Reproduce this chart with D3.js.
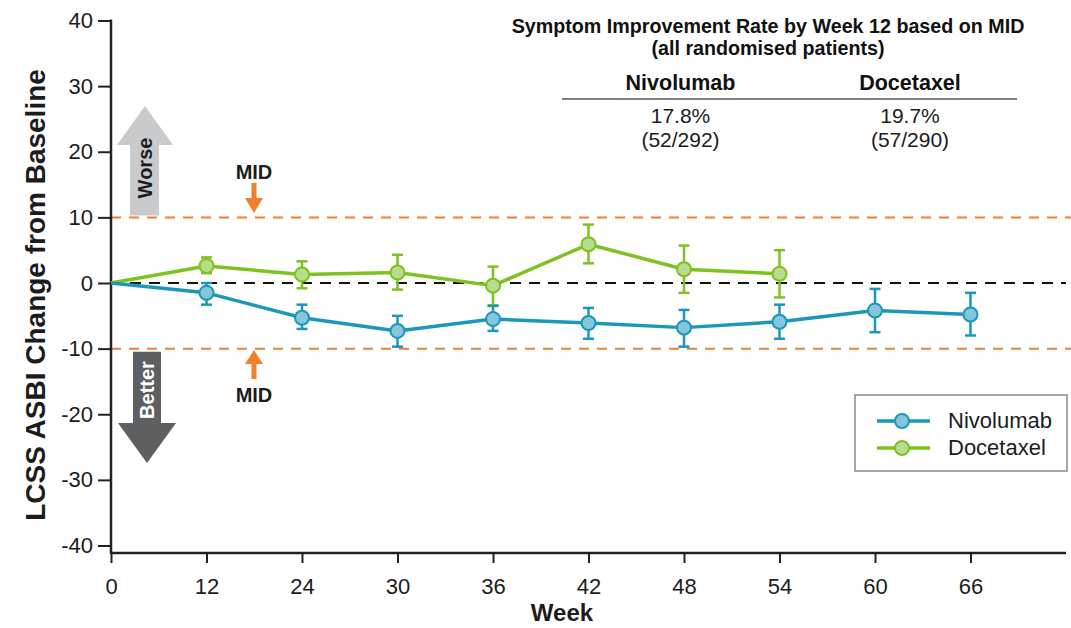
<!DOCTYPE html>
<html>
<head>
<meta charset="utf-8">
<script src="https://cdn.jsdelivr.net/npm/d3@7"></script>
<style>
  html, body { margin: 0; padding: 0; background: #fff; }
  svg { display: block; font-family: "Liberation Sans", Arial, sans-serif; }
</style>
</head>
<body>
<svg id="chart" width="1071" height="628"></svg>
<script>
// Study weeks (categorical, evenly spaced)
const weeks = [0, 12, 24, 30, 36, 42, 48, 54, 60, 66];
const yTicks = [40, 30, 20, 10, 0, -10, -20, -30, -40];

// Mean change from baseline with error bar limits
const nivoWeeks = [0, 12, 24, 30, 36, 42, 48, 54, 60, 66];
const nivoMean  = [0, -1.5, -5.3, -7.3, -5.5, -6.1, -6.8, -5.9, -4.2, -4.8];
const nivoHigh  = [null, 0.0, -3.3, -5.0, -3.5, -3.8, -4.1, -3.3, -0.9, -1.5];
const nivoLow   = [null, -3.3, -7.0, -9.7, -7.3, -8.5, -9.7, -8.5, -7.5, -8.0];

const doceWeeks = [0, 12, 24, 30, 36, 42, 48, 54];
const doceMean  = [0, 2.6, 1.3, 1.6, -0.4, 5.9, 2.1, 1.4];
const doceHigh  = [null, 3.9, 3.3, 4.3, 2.5, 8.9, 5.7, 5.0];
const doceLow   = [null, 1.5, -0.8, -1.0, -3.4, 3.0, -1.5, -2.2];

const midLevels = [10, -10];

const seriesNames = ["Nivolumab", "Docetaxel"];
const tableHeads = ["Nivolumab", "Docetaxel"];
const tableRates = ["17.8%", "19.7%"];
const tableCounts = ["(52/292)", "(57/290)"];

const colors = {
  Nivolumab: { line: "#1b98b9", fill: "#86c6dd" },
  Docetaxel: { line: "#7dc21e", fill: "#b8db8d" }
};
const orange = "#f0802c";
const ink = "#1c1c1c";

const svg = d3.select("#chart");

const x0 = 111, step = 95.5;
const x = d3.scalePoint().domain(weeks).range([x0, x0 + step * (weeks.length - 1)]);
const xEnd = x0 + step * weeks.length;
const y = d3.scaleLinear().domain([-40, 40]).range([545.5, 20.5]);
const yBottom = 553;

// Reference lines
svg.append("g").selectAll("line").data(midLevels).join("line")
  .attr("x1", x0).attr("x2", 1071)
  .attr("y1", d => y(d)).attr("y2", d => y(d))
  .attr("stroke", orange).attr("stroke-width", 2)
  .attr("stroke-dasharray", "10,8");

svg.append("line")
  .attr("x1", x0).attr("x2", xEnd)
  .attr("y1", y(0)).attr("y2", y(0))
  .attr("stroke", "#111").attr("stroke-width", 2.2)
  .attr("stroke-dasharray", "11,8");

// Worse / Better arrows
const worse = svg.append("g");
worse.append("path")
  .attr("d", `M130,${y(10) - 2} L130,145 L117,145 L145,106 L173,145 L159,145 L159,${y(10) - 2} Z`)
  .attr("fill", "#c9cacc");
worse.append("text")
  .attr("transform", "translate(152,168) rotate(-90)")
  .attr("text-anchor", "middle")
  .attr("font-size", 20).attr("font-weight", "bold").attr("fill", ink)
  .text("Worse");

const better = svg.append("g");
better.append("path")
  .attr("d", `M133,${y(-10) + 3} L133,423 L118,423 L147,463 L176,423 L161,423 L161,${y(-10) + 3} Z`)
  .attr("fill", "#5e5f61");
better.append("text")
  .attr("transform", "translate(154,390) rotate(-90)")
  .attr("text-anchor", "middle")
  .attr("font-size", 20).attr("font-weight", "bold").attr("fill", "#fff")
  .text("Better");

// MID markers
const midX = 254;
svg.append("path")
  .attr("d", `M251.5,183 L256.5,183 L256.5,198 L263,198 L254,213 L245,198 L251.5,198 Z`)
  .attr("fill", orange);
svg.append("text").attr("x", midX).attr("y", 179).attr("text-anchor", "middle")
  .attr("font-size", 20).attr("font-weight", "bold").attr("fill", ink).text("MID");
svg.append("path")
  .attr("d", `M251.5,379 L256.5,379 L256.5,364 L263,364 L254,350 L245,364 L251.5,364 Z`)
  .attr("fill", orange);
svg.append("text").attr("x", midX).attr("y", 402).attr("text-anchor", "middle")
  .attr("font-size", 20).attr("font-weight", "bold").attr("fill", ink).text("MID");

// Axes
const yAxis = svg.append("g").attr("transform", `translate(${x0},0)`)
  .call(d3.axisLeft(y).tickValues(yTicks).tickFormat(d => String(d))
    .tickSize(13).tickSizeOuter(0).tickPadding(5));
yAxis.select(".domain").remove();
yAxis.selectAll(".tick line").attr("stroke", "#222").attr("stroke-width", 2);
yAxis.selectAll(".tick text").attr("font-size", 22).attr("fill", ink)
  .attr("font-family", "Liberation Sans, Arial, sans-serif");
svg.append("line").attr("x1", x0).attr("x2", x0).attr("y1", y(40) - 1).attr("y2", yBottom + 1)
  .attr("stroke", "#222").attr("stroke-width", 2.5);

const xAxis = svg.append("g").attr("transform", `translate(0,${yBottom})`)
  .call(d3.axisBottom(x).tickSize(10).tickSizeOuter(0).tickPadding(15));
xAxis.select(".domain").remove();
xAxis.selectAll(".tick line").attr("stroke", "#222").attr("stroke-width", 2);
xAxis.selectAll(".tick text").attr("font-size", 22).attr("fill", ink)
  .attr("font-family", "Liberation Sans, Arial, sans-serif");
svg.append("line").attr("x1", x0).attr("x2", xEnd).attr("y1", yBottom).attr("y2", yBottom)
  .attr("stroke", "#222").attr("stroke-width", 2.5);

svg.append("text").attr("x", 562).attr("y", 621).attr("text-anchor", "middle")
  .attr("font-size", 24).attr("font-weight", "bold").attr("fill", ink).text("Week");
svg.append("text")
  .attr("transform", "translate(45,295) rotate(-90)")
  .attr("text-anchor", "middle")
  .attr("font-size", 28).attr("font-weight", "bold").attr("fill", ink)
  .text("LCSS ASBI Change from Baseline");

// Series
function drawSeries(name, wk, mean, hi, lo) {
  const c = colors[name];
  const pts = wk.map((w, i) => ({ w, m: mean[i], h: hi[i], l: lo[i] }));
  const g = svg.append("g");
  g.append("path").datum(pts)
    .attr("d", d3.line().x(d => x(d.w)).y(d => y(d.m)))
    .attr("fill", "none").attr("stroke", c.line).attr("stroke-width", 3.5)
    .attr("stroke-linejoin", "round");
  const eb = pts.filter(d => d.h !== null);
  const bars = g.selectAll(".eb").data(eb).join("g");
  bars.append("line").attr("x1", d => x(d.w)).attr("x2", d => x(d.w))
    .attr("y1", d => y(d.h)).attr("y2", d => y(d.l))
    .attr("stroke", c.line).attr("stroke-width", 2.5);
  ["h", "l"].forEach(k => {
    bars.append("line").attr("x1", d => x(d.w) - 5.5).attr("x2", d => x(d.w) + 5.5)
      .attr("y1", d => y(d[k])).attr("y2", d => y(d[k]))
      .attr("stroke", c.line).attr("stroke-width", 2.5);
  });
  bars.append("circle").attr("cx", d => x(d.w)).attr("cy", d => y(d.m)).attr("r", 7)
    .attr("fill", c.fill).attr("stroke", c.line).attr("stroke-width", 2);
}
drawSeries("Docetaxel", doceWeeks, doceMean, doceHigh, doceLow);
drawSeries("Nivolumab", nivoWeeks, nivoMean, nivoHigh, nivoLow);

// Legend
const lg = svg.append("g");
lg.append("rect").attr("x", 855).attr("y", 395).attr("width", 212).attr("height", 76)
  .attr("fill", "#fff").attr("stroke", "#888").attr("stroke-width", 1.5);
seriesNames.forEach((n, i) => {
  const yy = 421 + i * 27;
  lg.append("line").attr("x1", 877).attr("x2", 930).attr("y1", yy).attr("y2", yy)
    .attr("stroke", colors[n].line).attr("stroke-width", 3.5);
  lg.append("circle").attr("cx", 902).attr("cy", yy).attr("r", 7)
    .attr("fill", colors[n].fill).attr("stroke", colors[n].line).attr("stroke-width", 2);
  lg.append("text").attr("x", 948).attr("y", yy + 7).attr("font-size", 22).attr("fill", ink).text(n);
});

// Symptom improvement table
const tbl = svg.append("g");
tbl.append("text").attr("x", 768).attr("y", 33).attr("text-anchor", "middle")
  .attr("font-size", 19.7).attr("font-weight", "bold").attr("fill", "#111")
  .text("Symptom Improvement Rate by Week 12 based on MID");
tbl.append("text").attr("x", 768).attr("y", 55).attr("text-anchor", "middle")
  .attr("font-size", 19.7).attr("font-weight", "bold").attr("fill", "#111")
  .text("(all randomised patients)");
const colX = [680.5, 910];
tableHeads.forEach((h, i) => {
  tbl.append("text").attr("x", colX[i]).attr("y", 90).attr("text-anchor", "middle")
    .attr("font-size", 21.5).attr("font-weight", "bold").attr("fill", "#111").text(h);
  tbl.append("text").attr("x", colX[i]).attr("y", 123).attr("text-anchor", "middle")
    .attr("font-size", 21).attr("fill", ink).text(tableRates[i]);
  tbl.append("text").attr("x", colX[i]).attr("y", 147).attr("text-anchor", "middle")
    .attr("font-size", 21).attr("fill", ink).text(tableCounts[i]);
});
tbl.append("line").attr("x1", 562).attr("x2", 1017).attr("y1", 99).attr("y2", 99)
  .attr("stroke", "#555").attr("stroke-width", 1.5);
</script>
</body>
</html>
